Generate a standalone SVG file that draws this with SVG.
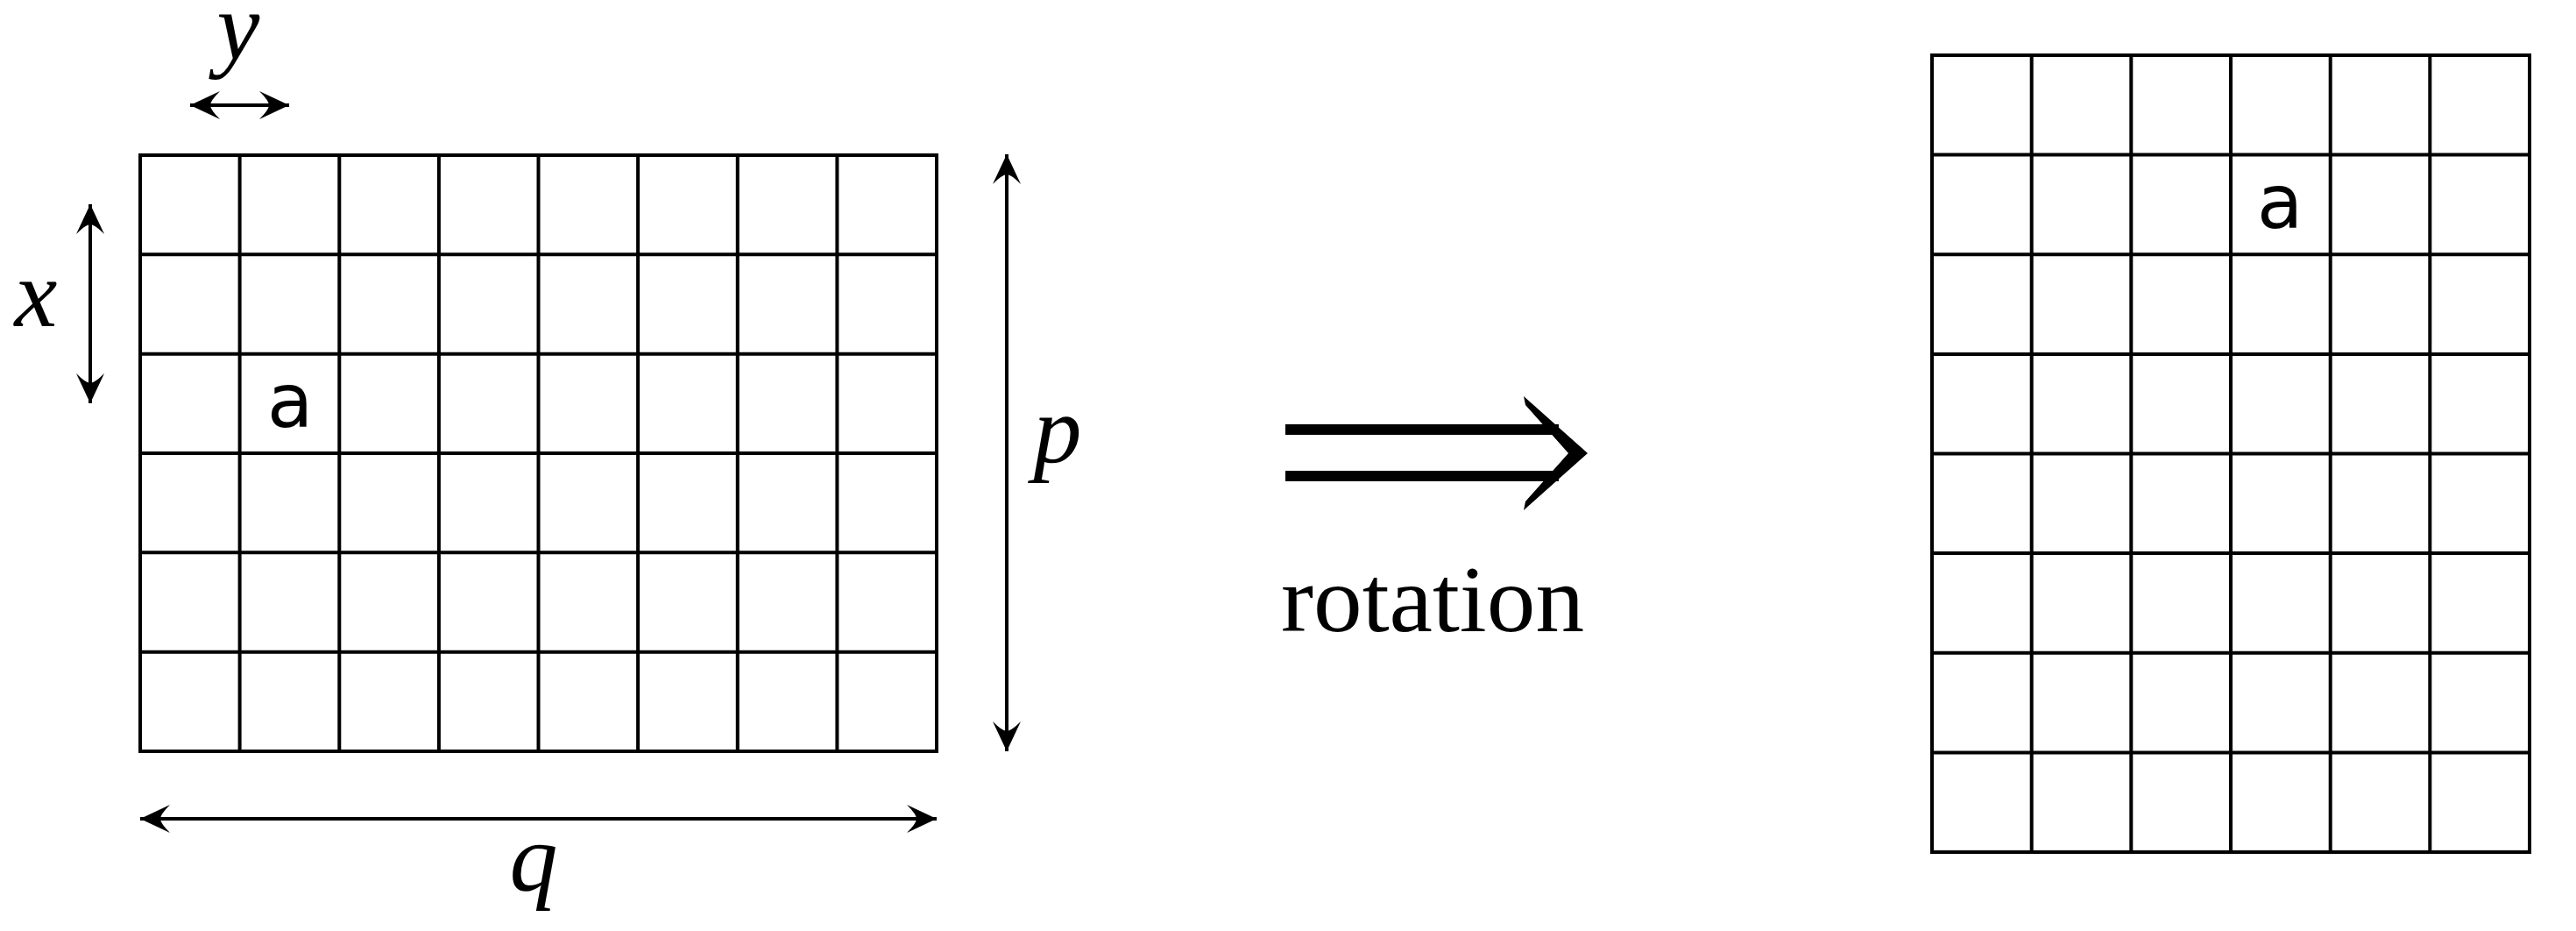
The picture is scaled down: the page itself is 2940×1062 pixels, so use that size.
<svg xmlns="http://www.w3.org/2000/svg" width="2940" height="1062" viewBox="0 0 2940 1062">
<style>
.grid{fill:none;stroke:#000;stroke-width:4;stroke-linecap:square}
.dim{stroke:#000;stroke-width:4;fill:none}
.math{font-family:"Liberation Serif","DejaVu Serif",serif;font-style:italic;font-size:110px;fill:#000;text-anchor:middle}
.lbl{font-family:"DejaVu Sans","Liberation Sans",sans-serif;font-size:86px;fill:#000;text-anchor:middle}
.word{font-family:"Liberation Serif","DejaVu Serif",serif;font-size:108px;fill:#000}
</style>
<defs>
<marker id="ah" viewBox="0 0 34 34" refX="34" refY="17" markerWidth="34" markerHeight="34" markerUnits="userSpaceOnUse" orient="auto-start-reverse">
<path d="M34,17 L0,1 Q11,12 11,17 Q11,22 0,33 Z" fill="#000"/>
</marker>
</defs>
<rect width="2940" height="1062" fill="#fff"/>
<g id="grid-left">
<rect class="grid" x="160" y="177" width="909" height="680"/>
<path class="grid" d="M273.6,177V857M387.3,177V857M500.9,177V857M614.5,177V857M728.1,177V857M841.8,177V857M955.4,177V857M160,290.3H1069M160,403.7H1069M160,517H1069M160,630.3H1069M160,743.7H1069"/>
<text class="lbl" x="331" y="487">a</text>
</g>
<g id="grid-right">
<rect class="grid" x="2205" y="63" width="682" height="909"/>
<path class="grid" d="M2318.7,63V972M2432.3,63V972M2546,63V972M2659.7,63V972M2773.3,63V972M2205,176.6H2887M2205,290.3H2887M2205,403.9H2887M2205,517.5H2887M2205,631.1H2887M2205,744.8H2887M2205,858.4H2887"/>
<text class="lbl" x="2602" y="260">a</text>
</g>
<g id="connectors">
<line class="dim" x1="217" y1="120" x2="330" y2="120" marker-start="url(#ah)" marker-end="url(#ah)"/>
<line class="dim" x1="103" y1="233" x2="103" y2="460" marker-start="url(#ah)" marker-end="url(#ah)"/>
<line class="dim" x1="1149" y1="176" x2="1149" y2="857" marker-start="url(#ah)" marker-end="url(#ah)"/>
<line class="dim" x1="160" y1="934" x2="1069" y2="934" marker-start="url(#ah)" marker-end="url(#ah)"/>
</g>
<g id="labels">
<text class="math" x="272" y="68">y</text>
<text class="math" x="41" y="372">x</text>
<text class="math" x="1207" y="528">p</text>
<text class="math" x="609" y="1016">q</text>
</g>
<g id="rotation-arrow">
<rect x="1467" y="484" width="312" height="12"/>
<rect x="1467" y="537" width="312" height="12"/>
<path d="M1739,452 L1812,517 L1739,582 L1741,572 L1790,517 L1741,462 Z" fill="#000"/>
<text class="word" x="1462" y="720" textLength="346" lengthAdjust="spacingAndGlyphs">rotation</text>
</g>
</svg>
